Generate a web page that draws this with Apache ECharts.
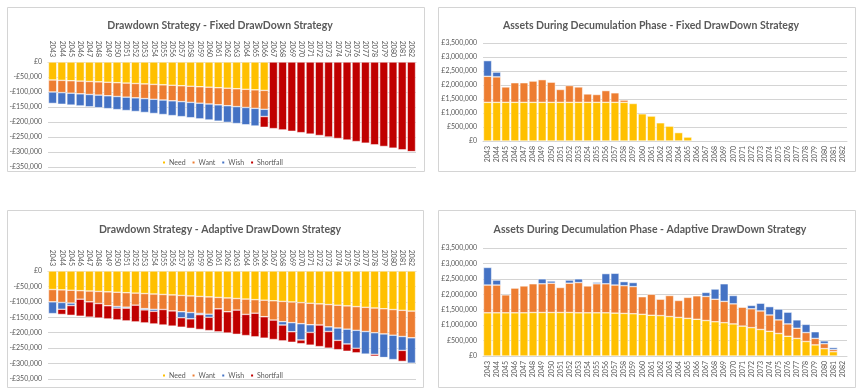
<!DOCTYPE html>
<html><head><meta charset="utf-8">
<script src="https://cdn.jsdelivr.net/npm/echarts@6/dist/echarts.min.js"></script>
<style>html,body{margin:0;padding:0;background:#fff}#c{width:861px;height:392px}</style>
</head><body><div id="c"></div>
<script>
const years = ['2043','2044','2045','2046','2047','2048','2049','2050','2051','2052','2053','2054','2055','2056','2057','2058','2059','2060','2061','2062','2063','2064','2065','2066','2067','2068','2069','2070','2071','2072','2073','2074','2075','2076','2077','2078','2079','2080','2081','2082'];

// Drawdown Strategy - Fixed (£, negative = withdrawal)
const fixedNeed = [-60000,-61200,-62400,-63700,-64900,-66200,-67600,-68900,-70300,-71700,-73100,-74600,-76100,-77600,-79200,-80800,-82400,-84000,-85700,-87400,-89200,-91000,-92800,-94600,0,0,0,0,0,0,0,0,0,0,0,0,0,0,0,0];
const fixedWant = [-40000,-40800,-41600,-42400,-43300,-44200,-45000,-46000,-46900,-47800,-48800,-49700,-50700,-51800,-52800,-53800,-54900,-56000,-57100,-58300,-59400,-60600,-61800,-63100,0,0,0,0,0,0,0,0,0,0,0,0,0,0,0,0];
const fixedWish = [-38000,-38800,-39500,-40300,-41100,-41900,-42800,-43700,-44500,-45400,-46300,-47200,-48200,-49200,-50100,-51100,-52200,-53200,-54300,-55400,-56500,-57600,-58700,-24000,0,0,0,0,0,0,0,0,0,0,0,0,0,0,0,0];
const fixedShortfall = [0,0,0,0,0,0,0,0,0,0,0,0,0,0,0,0,0,0,0,0,0,0,0,-35900,-222000,-226400,-230900,-235500,-240200,-245000,-250000,-255000,-260000,-265200,-270500,-276000,-281500,-287100,-292900,-298700];

// Drawdown Strategy - Adaptive
const adaptNeed = [-60000,-61200,-62400,-63700,-64900,-66200,-67600,-68900,-70300,-71700,-73100,-74600,-76100,-77600,-79200,-80800,-82400,-84000,-85700,-87400,-89200,-91000,-92800,-94600,-96500,-98500,-100400,-102400,-104500,-106600,-108700,-110900,-113100,-115400,-117700,-120000,-122400,-124900,-127400,-129900];
const adaptWant = [-40000,-40800,-41600,-27700,-35100,-39200,-45000,-46000,-46900,-39000,-48800,-49700,-48600,-51800,-52800,-53800,-54900,-56000,-37000,-44700,-37500,-49700,-44000,-53600,-62500,-65600,-66900,-68300,-69600,-68500,-72400,-73900,-75400,-76900,-78400,-80000,-81600,-83200,-84900,-86600];
const adaptWish = [-38000,-22000,-8000,0,0,0,0,-5500,-3300,0,-4200,-6400,0,0,-19400,-20400,-4300,-10000,0,0,0,0,0,0,0,-11000,-29400,-52900,-25000,0,-15000,-40000,-48000,-58000,-73400,-70000,-76500,-79000,-45000,-82200];
const adaptShortfall = [0,-16800,-31600,-55000,-49400,-47000,-42800,-38100,-41200,-54200,-42100,-40900,-50300,-49100,-30700,-30700,-47800,-43200,-74400,-68900,-78400,-68500,-76500,-69400,-63000,-51300,-34200,-11900,-41100,-69900,-53900,-30200,-23500,-14900,-1000,-6000,-1000,0,-35600,0];

// Assets During Decumulation Phase - Fixed (£)
const fixedAssetNeed = [1380000,1380000,1380000,1380000,1380000,1380000,1380000,1380000,1380000,1380000,1380000,1380000,1380000,1380000,1380000,1380000,1340000,970000,890000,650000,530000,300000,140000,0,0,0,0,0,0,0,0,0,0,0,0,0,0,0,0,0];
const fixedAssetWant = [930000,910000,550000,700000,700000,760000,810000,720000,460000,600000,550000,300000,280000,420000,340000,80000,0,0,0,0,0,0,0,0,0,0,0,0,0,0,0,0,0,0,0,0,0,0,0,0];
const fixedAssetWish = [560000,170000,0,0,0,0,0,0,0,0,0,0,0,0,0,0,0,0,0,0,0,0,0,0,0,0,0,0,0,0,0,0,0,0,0,0,0,0,0,0];

// Assets During Decumulation Phase - Adaptive (£)
const adaptAssetNeed = [1400000,1400000,1400000,1400000,1400000,1410000,1410000,1410000,1410000,1410000,1400000,1400000,1400000,1400000,1390000,1380000,1370000,1350000,1320000,1310000,1280000,1250000,1220000,1190000,1150000,1110000,1080000,1040000,970000,920000,860000,800000,730000,640000,570000,470000,360000,240000,140000,0];
const adaptAssetWant = [900000,900000,580000,800000,870000,930000,930000,950000,810000,950000,980000,870000,940000,940000,910000,900000,880000,570000,680000,530000,680000,550000,680000,760000,780000,730000,690000,650000,610000,610000,600000,530000,440000,400000,330000,290000,210000,160000,70000,0];
const adaptAssetWish = [570000,160000,0,0,0,0,160000,70000,0,100000,120000,0,50000,330000,380000,130000,130000,0,0,0,0,0,0,0,130000,330000,570000,270000,0,110000,250000,270000,350000,380000,270000,265000,215000,90000,63000,0];

const legendNames = ['Need','Want','Wish','Shortfall'];
const titles = ['Drawdown Strategy - Fixed DrawDown Strategy','Assets During Decumulation Phase - Fixed DrawDown Strategy','Drawdown Strategy - Adaptive DrawDown Strategy','Assets During Decumulation Phase - Adaptive DrawDown Strategy'];

const FONT = 'Lato, "Noto Sans", sans-serif';
const TXT = '#595959';
const GRIDC = '#d4d4d4';
const COL = {Need:'#FFC000', Want:'#ED7D31', Wish:'#4472C4', Shortfall:'#C00000'};

function gbp(v){
  if (v === 0) return '£0';
  const s = '£' + Math.abs(v).toString().replace(/\B(?=(\d{3})+(?!\d))/g, ',');
  return v < 0 ? '-' + s : s;
}
function bars(name, data, idx, stack){
  return {name, type:'bar', stack, xAxisIndex:idx, yAxisIndex:idx,
    data: data.map(v => v === 0 ? '-' : v),
    barCategoryGap:'10%',
    itemStyle:{color:COL[name], borderColor:'#ffffff', borderWidth:0.5},
    emphasis:{disabled:true}};
}
function xAx(idx, pos){
  return {gridIndex:idx, type:'category', data:years, position:pos,
    axisTick:{show:false}, axisLine:{show:true, onZero:false, lineStyle:{color:GRIDC}},
    axisLabel:{rotate:90, interval:0, fontSize:7, color:TXT, margin:5, fontFamily:FONT}};
}
function yAx(idx, min, max, step){
  return {gridIndex:idx, type:'value', min, max, interval:step,
    axisLine:{show:false}, axisTick:{show:false},
    splitLine:{show:true, lineStyle:{color:GRIDC, width:1}},
    axisLabel:{formatter:gbp, fontSize:7, color:TXT, margin:6, fontFamily:FONT}};
}
function legend(left, top){
  return {data:legendNames, left, top, icon:'rect', itemWidth:4, itemHeight:4, itemGap:5,
    textStyle:{fontSize:7, color:TXT, fontFamily:FONT, padding:[0,0,0,-2]}, selectedMode:false};
}
function title(text, x, y){
  return {text, left:x, top:y, textAlign:'center',
    textStyle:{fontSize:10.5, fontWeight:'bold', color:TXT, fontFamily:FONT}};
}
function frame(x, y, w, h){
  return {type:'rect', shape:{x, y, width:w, height:h}, style:{fill:'none', stroke:GRIDC, lineWidth:1}, silent:true};
}

const chart = echarts.init(document.getElementById('c'), null, {renderer:'canvas'});
chart.setOption({
  animation:false,
  backgroundColor:'#ffffff',
  title:[title(titles[0], 215, 15), title(titles[1], 646, 15), title(titles[2], 215, 219), title(titles[3], 645, 219)],
  graphic:[frame(7.5,7.5,417,164), frame(438.5,7.5,417,164), frame(7.5,210.5,416,177), frame(438.5,210.5,417,177)],
  legend:[legend(156, 154), legend(156, 367)],
  grid:[
    {left:48, top:62, width:368, height:105},
    {left:483, top:43, width:364, height:98},
    {left:48, top:271, width:368, height:108},
    {left:483, top:248, width:364, height:108}
  ],
  xAxis:[xAx(0,'top'), xAx(1,'bottom'), xAx(2,'top'), xAx(3,'bottom')],
  yAxis:[yAx(0,-350000,0,50000), yAx(1,0,3500000,500000), yAx(2,-350000,0,50000), yAx(3,0,3500000,500000)],
  series:[
    bars('Need', fixedNeed, 0, 'a'), bars('Want', fixedWant, 0, 'a'), bars('Wish', fixedWish, 0, 'a'), bars('Shortfall', fixedShortfall, 0, 'a'),
    bars('Need', fixedAssetNeed, 1, 'b'), bars('Want', fixedAssetWant, 1, 'b'), bars('Wish', fixedAssetWish, 1, 'b'),
    bars('Need', adaptNeed, 2, 'c'), bars('Want', adaptWant, 2, 'c'), bars('Wish', adaptWish, 2, 'c'), bars('Shortfall', adaptShortfall, 2, 'c'),
    bars('Need', adaptAssetNeed, 3, 'd'), bars('Want', adaptAssetWant, 3, 'd'), bars('Wish', adaptAssetWish, 3, 'd')
  ]
});
</script>
</body></html>
